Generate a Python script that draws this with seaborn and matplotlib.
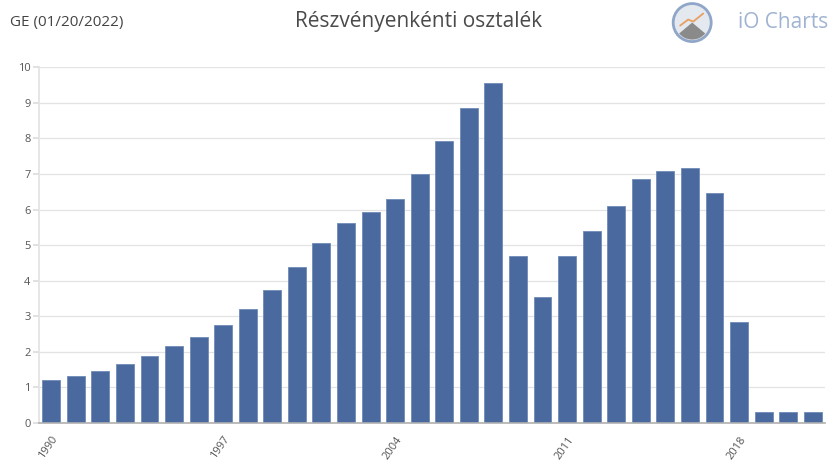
import matplotlib
matplotlib.use("Agg")
import matplotlib.pyplot as plt
import seaborn as sns
import pandas as pd
from matplotlib.patches import Circle, Wedge
from matplotlib.lines import Line2D

years = list(range(1990, 2022))
values = [1.21, 1.32, 1.46, 1.66, 1.88, 2.16, 2.42, 2.75, 3.20, 3.74,
          4.38, 5.06, 5.62, 5.93, 6.29, 7.00, 7.92, 8.85, 9.55, 4.69,
          3.54, 4.69, 5.39, 6.10, 6.85, 7.08, 7.16, 6.46, 2.84, 0.31,
          0.31, 0.31]
tick_years = [1990, 1997, 2004, 2011, 2018]
yticks = list(range(0, 11))

title = "Részvényenkénti osztalék"
left_label = "GE (01/20/2022)"
brand = "iO Charts"

sns.set_theme(style="white")
plt.rcParams['font.family'] = ['Open Sans', 'DejaVu Sans']

df = pd.DataFrame({"year": [str(y) for y in years], "value": values})

fig = plt.figure(figsize=(8.38, 4.70), dpi=100)
ax = fig.add_axes([0.0465, 0.10, 0.938, 0.757])
sns.barplot(data=df, x="year", y="value", color="#4a6a9f", saturation=1,
            width=0.73, ax=ax, edgecolor="#6f8bb8", linewidth=0.6)

ax.set_xlim(-0.5, len(years) - 0.5)
ax.set_ylim(0, 10)
ax.set_yticks(yticks)
ax.set_yticklabels([str(t) for t in yticks], fontsize=8, color="#555555")
ax.grid(axis="y", color="#e3e3e3", linewidth=0.9)
ax.set_axisbelow(True)
pos = [years.index(y) for y in tick_years]
ax.set_xticks(pos)
ax.set_xticklabels([str(y) for y in tick_years], rotation=55, ha="right",
                   rotation_mode="anchor", fontsize=8, color="#555555")
ax.tick_params(axis="y", length=4, color="#dddddd", pad=2, left=True)
ax.tick_params(axis="x", length=0, pad=8)
ax.set_xlabel("")
ax.set_ylabel("")
for s in ["top", "right"]:
    ax.spines[s].set_visible(False)
ax.spines["left"].set_color("#e3e3e3")
ax.spines["bottom"].set_color("#b0b0b0")
ax.spines["bottom"].set_linewidth(1.2)

fig.text(0.012, 0.952, left_label, fontsize=11, color="#444444", va="center")
fig.text(0.5, 0.955, title, fontsize=15, color="#4a4a4a", va="center", ha="center")
fig.text(0.988, 0.952, brand, fontsize=15, color="#9fb3d2", va="center", ha="right")
cx, cy = 0.826 * 838, 0.952 * 470
circ = Circle((cx, cy), 19, transform=None, facecolor="#e4e8ef",
              edgecolor="#8fa6c8", linewidth=2)
fig.patches.append(circ)
mound = Wedge((cx, cy), 17, 220, 320, transform=None, facecolor="#8a8a8a",
              edgecolor="none")
fig.patches.append(mound)
fig.lines.append(Line2D([cx - 12, cx - 4, cx + 1, cx + 11], [cy - 3, cy + 3, cy + 1, cy + 9],
                        transform=None, color="#e8a060", linewidth=1.3))

fig.savefig("out.png", dpi=100)
